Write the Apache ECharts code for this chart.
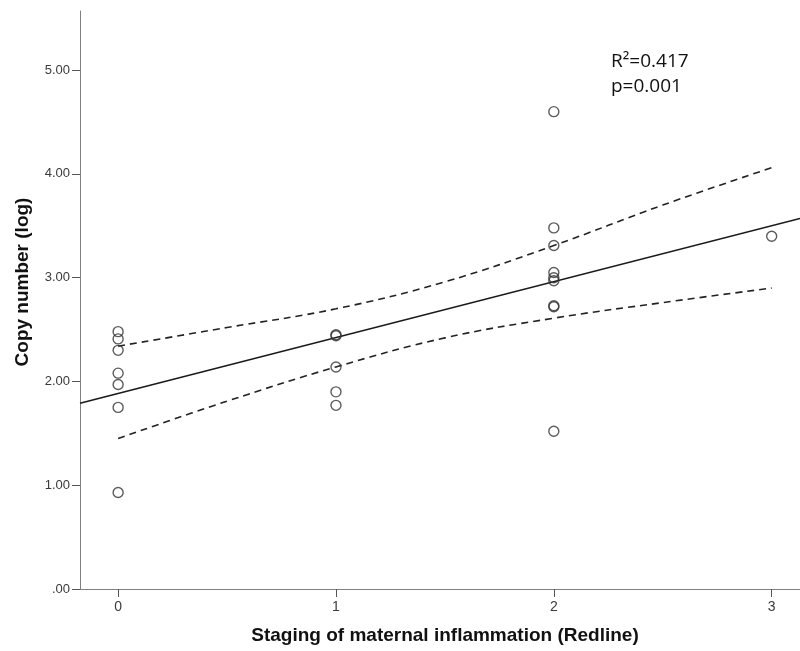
<!DOCTYPE html>
<html>
<head>
<meta charset="utf-8">
<script src="https://cdn.jsdelivr.net/npm/echarts@6/dist/echarts.min.js"></script>
<style>html,body{margin:0;padding:0;background:#fff}#c{width:800px;height:651px}</style>
</head>
<body>
<div id="c"></div>
<script>
// Observed points: staging (x) and copy number log (y)
const stageX = [0,0,0,0,0,0,0, 1,1,1,1,1, 2,2,2,2,2,2,2,2,2, 3];
const copyY  = [2.48,2.41,2.30,2.08,1.97,1.75,0.93,
                2.44,2.45,2.14,1.90,1.77,
                4.60,3.48,3.31,3.05,3.00,2.97,2.73,2.72,1.52,
                3.40];
// Fit line
const fitX = [-0.175, 3.13];
const fitY = [1.79, 3.57];
// Confidence band curves
const bandX = [0, 0.5, 1, 1.5, 2, 2.5, 3];
const upperY = [2.34, 2.52, 2.70, 2.96, 3.31, 3.70, 4.06];
const lowerY = [1.45, 1.81, 2.14, 2.42, 2.61, 2.76, 2.90];
// Ticks
const xTicks = [0, 1, 2, 3];
const yTicks = [0, 1, 2, 3, 4, 5];
const statLines = ['R\u00B2=0.417', 'p=0.001'];
const xTitle = 'Staging of maternal inflammation (Redline)';
const yTitle = 'Copy number (log)';

const zip = (a, b) => a.map((v, i) => [v, b[i]]);
const chart = echarts.init(document.getElementById('c'), null, {renderer: 'canvas'});
const axisCol = '#808080';
const labelFont = 'Liberation Sans, Arial, sans-serif';
chart.setOption({
  animation: false,
  backgroundColor: '#fff',
  grid: {left: 80, right: 0, top: 11, bottom: 62, containLabel: false},
  xAxis: {
    type: 'value', min: -0.175, max: 3.13,
    splitLine: {show: false},
    axisLine: {show: true, onZero: false, lineStyle: {color: axisCol, width: 1}},
    axisTick: {show: true, customValues: xTicks, length: 8, inside: false, lineStyle: {color: '#555', width: 1}},
    axisLabel: {customValues: xTicks, color: '#3a3a3a', fontSize: 14, fontFamily: labelFont, margin: 11,
                formatter: v => String(Math.round(v))}
  },
  yAxis: {
    type: 'value', min: 0, max: 5.57,
    splitLine: {show: false},
    axisLine: {show: true, onZero: false, lineStyle: {color: axisCol, width: 1}},
    axisTick: {show: true, customValues: yTicks, length: 8, lineStyle: {color: '#555', width: 1}},
    axisLabel: {customValues: yTicks, color: '#3a3a3a', fontSize: 13, fontFamily: labelFont, margin: 10,
                formatter: v => v === 0 ? '.00' : v.toFixed(2)}
  },
  series: [
    {type: 'line', data: zip(fitX, fitY), symbol: 'none', lineStyle: {color: '#1a1a1a', width: 1.6}, z: 2},
    {type: 'line', data: zip(bandX, upperY), symbol: 'none', smooth: 0.4,
     lineStyle: {color: '#222', width: 1.6, type: [7, 5]}, z: 2},
    {type: 'line', data: zip(bandX, lowerY), symbol: 'none', smooth: 0.4,
     lineStyle: {color: '#222', width: 1.6, type: [7, 5]}, z: 2},
    {type: 'scatter', data: zip(stageX, copyY), symbol: 'circle', symbolSize: 10,
     itemStyle: {color: 'rgba(255,255,255,0)', borderColor: '#333', borderWidth: 1.4}, z: 3}
  ],
  graphic: [
    {type: 'text', left: 611, top: 52, style: {text: statLines[0], font: '19px "Open Sans", sans-serif', fill: '#111'}},
    {type: 'text', left: 611, top: 77, style: {text: statLines[1], font: '19px "Open Sans", sans-serif', fill: '#111'}},
    {type: 'text', x: 445, y: 636, style: {text: xTitle, font: 'bold 19px "Liberation Sans", Arial, sans-serif',
      fill: '#111', align: 'center', verticalAlign: 'middle'}},
    {type: 'text', x: 23, y: 282, rotation: Math.PI / 2, style: {text: yTitle,
      font: 'bold 19px "Liberation Sans", Arial, sans-serif', fill: '#111', align: 'center', verticalAlign: 'middle'}}
  ]
});
</script>
</body>
</html>
